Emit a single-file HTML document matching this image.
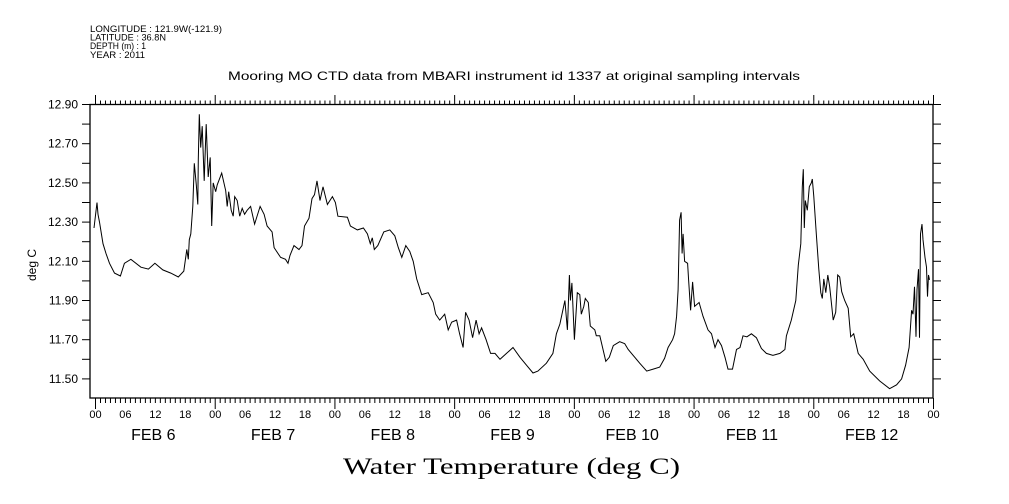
<!DOCTYPE html>
<html><head><meta charset="utf-8"><style>
html,body{margin:0;padding:0;background:#fff;}
svg{display:block;font-family:"Liberation Sans",sans-serif;}
</style></head><body>
<svg id="chart" width="1009" height="504" viewBox="0 0 1009 504" xmlns="http://www.w3.org/2000/svg">
<g font-size="9.5" fill="#000">
<text x="90" y="32" textLength="132" lengthAdjust="spacingAndGlyphs">LONGITUDE : 121.9W(-121.9)</text>
<text x="90" y="40.5" textLength="76" lengthAdjust="spacingAndGlyphs">LATITUDE : 36.8N</text>
<text x="90" y="49" textLength="56" lengthAdjust="spacingAndGlyphs">DEPTH (m) : 1</text>
<text x="90" y="58" textLength="55" lengthAdjust="spacingAndGlyphs">YEAR : 2011</text>
</g>
<text x="228" y="80" font-size="12" textLength="572" lengthAdjust="spacingAndGlyphs">Mooring MO CTD data from MBARI instrument id 1337 at original sampling intervals</text>
<text transform="translate(36,265) rotate(-90)" font-size="12" text-anchor="middle">deg C</text>
<text x="343" y="474" font-family="'Liberation Serif',serif" font-size="23" textLength="337" lengthAdjust="spacingAndGlyphs">Water Temperature (deg C)</text>
<rect x="90" y="104.5" width="843" height="293.5" fill="none" stroke="#000" stroke-width="1.3"/>
<g id="axes"></g>
<path id="series" fill="none" stroke="#000" stroke-width="1"/>
</svg>
<script>
const hours = [-0.3,0.3,0.5,0.8,1.5,2.1,2.8,3.8,5.0,5.8,7.1,9.1,10.6,11.9,13.5,15.1,16.6,17.7,18.3,18.6,18.8,19.1,19.5,19.8,20.2,20.5,20.6,20.8,21.1,21.4,21.8,22.2,22.6,23.0,23.3,23.6,24.1,24.4,25.3,26.1,26.4,26.7,27.2,27.6,27.9,28.4,28.9,29.4,29.9,30.4,31.1,31.9,33.0,33.8,34.4,35.4,35.8,37.1,38.1,38.6,39.0,39.8,40.8,41.4,41.9,42.8,43.4,43.9,44.4,45.0,45.6,46.5,47.5,48.1,48.6,50.5,51.1,52.5,53.7,54.5,55.1,55.5,55.9,56.6,57.8,59.0,60.0,60.7,61.4,62.2,63.0,63.7,64.4,65.4,66.7,67.7,68.2,69.0,70.0,70.7,71.4,72.4,73.0,73.7,74.2,74.9,75.6,76.3,76.9,77.4,78.3,79.2,80.1,81.1,82.4,83.7,85.1,86.4,87.7,88.7,90.4,91.7,92.4,93.1,94.1,94.6,95.0,95.2,95.5,96.0,96.6,97.1,97.4,97.9,98.2,98.8,99.2,100.1,100.4,101.1,102.3,103.0,103.8,105.1,106.1,106.8,107.8,109.1,110.5,111.8,113.1,114.1,114.8,115.7,116.1,116.5,116.8,117.1,117.4,117.6,117.8,118.1,118.7,118.9,119.3,119.7,120.1,121.0,121.8,122.8,123.5,124.2,124.8,125.5,126.2,126.8,127.7,128.5,129.2,129.8,130.6,131.5,132.5,133.5,134.5,135.8,137.2,138.2,138.5,139.5,140.4,140.9,141.4,141.7,141.9,142.1,142.3,142.7,143.1,143.5,143.7,144.0,144.5,145.0,145.4,145.7,146.0,146.4,146.8,147.2,147.9,148.4,148.8,149.2,149.6,150.2,150.9,151.4,152.0,152.9,153.9,155.2,157.2,159.2,160.6,161.6,162.4,163.1,163.6,163.9,164.2,164.5,164.7,165.0,165.2,165.4,165.7,165.9,166.3,166.6,166.8,167.0,167.2];
const temps = [12.27,12.40,12.34,12.30,12.19,12.14,12.09,12.04,12.025,12.09,12.11,12.07,12.06,12.09,12.056,12.04,12.02,12.05,12.16,12.11,12.21,12.24,12.38,12.60,12.49,12.39,12.62,12.85,12.68,12.79,12.51,12.80,12.53,12.63,12.28,12.50,12.455,12.49,12.55,12.46,12.38,12.455,12.36,12.33,12.43,12.41,12.33,12.37,12.34,12.36,12.38,12.29,12.38,12.34,12.28,12.25,12.17,12.12,12.11,12.09,12.13,12.18,12.16,12.18,12.28,12.32,12.42,12.44,12.51,12.41,12.48,12.39,12.43,12.40,12.33,12.325,12.28,12.26,12.27,12.24,12.19,12.22,12.16,12.18,12.25,12.26,12.23,12.17,12.12,12.18,12.15,12.10,12.01,11.93,11.94,11.89,11.83,11.80,11.83,11.75,11.79,11.80,11.73,11.66,11.84,11.80,11.71,11.80,11.73,11.76,11.70,11.63,11.63,11.60,11.63,11.66,11.61,11.57,11.53,11.54,11.58,11.63,11.73,11.78,11.90,11.75,12.03,11.90,11.99,11.70,11.94,11.93,11.83,11.87,11.91,11.89,11.77,11.75,11.72,11.72,11.59,11.61,11.67,11.69,11.68,11.65,11.62,11.58,11.54,11.55,11.56,11.605,11.66,11.70,11.73,11.82,11.955,12.31,12.35,12.14,12.24,12.10,12.09,12.005,11.85,11.995,11.87,11.89,11.82,11.75,11.73,11.66,11.70,11.67,11.61,11.55,11.55,11.65,11.66,11.72,11.715,11.73,11.71,11.655,11.63,11.62,11.63,11.65,11.72,11.80,11.90,12.08,12.19,12.48,12.57,12.27,12.41,12.36,12.48,12.50,12.52,12.43,12.24,12.06,11.94,11.91,12.01,11.94,12.03,11.97,11.80,11.84,12.03,12.02,11.945,11.90,11.86,11.715,11.73,11.63,11.60,11.54,11.49,11.45,11.47,11.50,11.57,11.66,11.85,11.83,11.97,11.715,11.955,12.06,11.71,12.24,12.29,12.21,12.12,12.07,11.92,12.03,12.005];
const yTicks = [11.5,11.7,11.9,12.1,12.3,12.5,12.7,12.9];
const hourLabels = ["00","06","12","18"];
const dayLabels = ["FEB  6","FEB  7","FEB  8","FEB  9","FEB 10","FEB 11","FEB 12"];

const NS = "http://www.w3.org/2000/svg";
function xs(h){ return 95.5 + h * (838 / 168); }
function ys(v){ return 104.5 + (12.9 - v) * 196; }
const axes = document.getElementById('axes');
function line(x1,y1,x2,y2,name){
  const l = document.createElementNS(NS,'line');
  l.setAttribute('x1',x1); l.setAttribute('y1',y1); l.setAttribute('x2',x2); l.setAttribute('y2',y2);
  l.setAttribute('stroke','#000'); l.setAttribute('stroke-width','1');
  
  
  axes.appendChild(l);
}
function text(x,y,s,size,anchor,name){
  const t = document.createElementNS(NS,'text');
  t.setAttribute('x',x); t.setAttribute('y',y); t.setAttribute('font-size',size);
  t.setAttribute('text-anchor',anchor); t.textContent = s;
  
  
  axes.appendChild(t);
}
for(let i=0;i<=14;i++){
  const v = 11.5 + i*0.1; if (v>12.901) break;
  const y = ys(v);
  line(82,y,90,y,'y-tick');
  line(933,y,941,y,'y-tick-right');
}
yTicks.forEach(v=>{ text(78, ys(v)+4, v.toFixed(2), 12, 'end', 'y-tick-label'); });
for(let h=0; h<=168; h++){
  const x = xs(h);
  if (x>933.5) break;
  const major = h%24===0;
  line(x,104.5,x, major?95:100.5,'x-tick-top');
  line(x,398,x, major?409:403,'x-tick-bottom');
}
for(let h=0; h<=168; h+=6){
  text(xs(h), 418, hourLabels[(h/6)%4], 11, 'middle', 'x-hour-label');
}
dayLabels.forEach((d,i)=>{ text(xs(i*24+12)-2, 440, d, 16, 'middle', 'x-day-label'); });
let d = '';
for(let i=0;i<hours.length;i++){ d += (i?'L':'M') + xs(hours[i]).toFixed(1) + ' ' + ys(temps[i]).toFixed(1); }
document.getElementById('series').setAttribute('d', d);
</script>
</body></html>
